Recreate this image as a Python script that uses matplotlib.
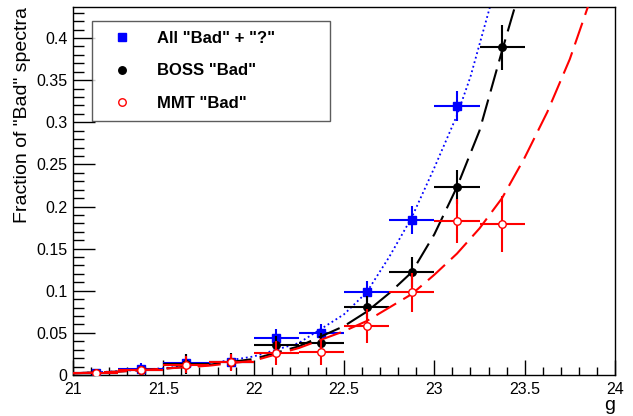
import matplotlib
matplotlib.use("Agg")
import matplotlib.pyplot as plt
from matplotlib.lines import Line2D
from matplotlib.ticker import MultipleLocator, FuncFormatter

plt.rcParams['font.family'] = ['Liberation Sans', 'DejaVu Sans']

# ---- data: binned points (bin centres, half-width 0.125) ----
g_all = [21.125, 21.375, 21.625, 21.875, 22.125, 22.375, 22.625, 22.875, 23.125]
f_all = [0.002, 0.007, 0.014, 0.0155, 0.044, 0.050, 0.098, 0.184, 0.319]
e_all = [0.002, 0.007, 0.0115, 0.009, 0.011, 0.010, 0.013, 0.017, 0.018]

g_boss = [21.125, 21.375, 21.625, 21.875, 22.125, 22.375, 22.625, 22.875, 23.125, 23.375]
f_boss = [0.002, 0.006, 0.013, 0.016, 0.036, 0.038, 0.081, 0.122, 0.223, 0.389]
e_boss = [0.002, 0.005, 0.012, 0.010, 0.010, 0.012, 0.013, 0.018, 0.020, 0.027]

g_mmt = [21.125, 21.375, 21.625, 21.875, 22.125, 22.375, 22.625, 22.875, 23.125, 23.375]
f_mmt = [0.002, 0.006, 0.012, 0.015, 0.026, 0.027, 0.058, 0.098, 0.183, 0.179]
e_mmt = [0.002, 0.005, 0.010, 0.010, 0.014, 0.015, 0.020, 0.023, 0.026, 0.033]

bin_half = 0.125

# ---- fitted curves ----
fit_all_x = [21.0, 21.25, 21.5, 21.75, 22.0, 22.25, 22.5, 22.625, 22.75, 22.875, 23.0, 23.125, 23.2, 23.308]
fit_all_y = [0.002, 0.0045, 0.008, 0.0135, 0.022, 0.038, 0.072, 0.098, 0.140, 0.187, 0.246, 0.308, 0.354, 0.437]

fit_boss_x = [21.0, 21.25, 21.5, 21.75, 22.0, 22.25, 22.5, 22.625, 22.75, 22.875, 23.0, 23.125, 23.25, 23.375, 23.446]
fit_boss_y = [0.002, 0.004, 0.0075, 0.012, 0.019, 0.034, 0.058, 0.075, 0.097, 0.122, 0.167, 0.223, 0.290, 0.385, 0.437]

fit_mmt_x = [21.0, 21.25, 21.5, 21.75, 22.0, 22.25, 22.5, 22.625, 22.75, 22.875, 23.0, 23.125, 23.25, 23.375, 23.5, 23.625, 23.75, 23.85]
fit_mmt_y = [0.002, 0.004, 0.0075, 0.011, 0.017, 0.032, 0.052, 0.064, 0.080, 0.096, 0.119, 0.144, 0.174, 0.210, 0.258, 0.312, 0.375, 0.437]

labels = ['All "Bad" + "?"', 'BOSS "Bad"', 'MMT "Bad"']
x_label = 'g'
y_label = 'Fraction of "Bad" spectra'

fig = plt.figure(figsize=(6.33, 4.16), dpi=100)
ax = fig.add_axes([73/633, 41/416, 542/633, 368/416])

lw = 1.5
# blue series
ax.plot(fit_all_x, fit_all_y, color='#0000ff', lw=1.3, ls=(0, (1, 1.6)), zorder=2)
ax.errorbar(g_all, f_all, yerr=e_all, xerr=bin_half, fmt='s', color='#0000ff',
            ms=6.2, elinewidth=lw, capsize=0, zorder=3)
# black series
ax.plot(fit_boss_x, fit_boss_y, color='black', lw=lw, ls=(0, (11, 4)), zorder=4)
ax.errorbar(g_boss, f_boss, yerr=e_boss, xerr=bin_half, fmt='o', color='black',
            ms=5.4, elinewidth=lw, capsize=0, zorder=5)
# red series
ax.plot(fit_mmt_x, fit_mmt_y, color='#ff0000', lw=lw, ls=(0, (11, 4)), zorder=6)
ax.errorbar(g_mmt, f_mmt, yerr=e_mmt, xerr=bin_half, fmt='o', color='#ff0000',
            mfc='white', mec='#ff0000', mew=1.0, ms=5.4, elinewidth=lw, capsize=0, zorder=7)

ax.set_xlim(21, 24)
ax.set_ylim(0, 0.4368)

ax.xaxis.set_major_locator(MultipleLocator(0.5))
ax.xaxis.set_minor_locator(MultipleLocator(0.1))
ax.yaxis.set_major_locator(MultipleLocator(0.05))
ax.yaxis.set_minor_locator(MultipleLocator(0.01))

def fmt_x(v, p):
    s = ('%.1f' % v)
    return s[:-2] if s.endswith('.0') else s

def fmt_y(v, p):
    if abs(v) < 1e-9:
        return '0'
    s = ('%.2f' % v).rstrip('0')
    return s

ax.xaxis.set_major_formatter(FuncFormatter(fmt_x))
ax.yaxis.set_major_formatter(FuncFormatter(fmt_y))

ax.tick_params(axis='both', which='both', direction='in', top=False, right=False,
               labelsize=11.5, width=1.0, colors='black')
ax.tick_params(axis='x', which='major', length=11, pad=5)
ax.tick_params(axis='x', which='minor', length=5.5)
ax.tick_params(axis='y', which='major', length=16, pad=4)
ax.tick_params(axis='y', which='minor', length=8)
for s in ax.spines.values():
    s.set_linewidth(1.0)

ax.set_xlabel(x_label, loc='right', fontsize=14, labelpad=0)
ax.set_ylabel(y_label, loc='top', fontsize=14, labelpad=4)

handles = [
    Line2D([], [], ls='none', marker='s', color='#0000ff', ms=6.2),
    Line2D([], [], ls='none', marker='o', color='black', ms=5.4),
    Line2D([], [], ls='none', marker='o', mfc='white', mec='#ff0000', mew=1.0, ms=5.4),
]
leg = ax.legend(handles, labels, loc='upper left', mode='expand',
                bbox_to_anchor=(0.035, 0.674, 0.439, 0.288),
                prop={'weight': 'bold', 'size': 12}, frameon=True, fancybox=False,
                borderpad=0.6, labelspacing=1.05, handlelength=2.4, handletextpad=0.9,
                borderaxespad=0)
leg.get_frame().set_edgecolor('#333333')
leg.get_frame().set_linewidth(1.0)

fig.savefig('out.png', dpi=100)
